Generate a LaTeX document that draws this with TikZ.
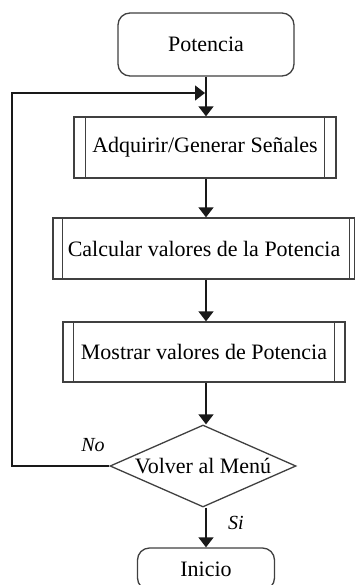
\documentclass[tikz,border=0pt]{standalone}
\usepackage{fontspec}
\setmainfont{Liberation Serif}
\usetikzlibrary{arrows.meta,shapes.geometric}
\tikzset{
  box/.style={draw=black!75, line width=1.3pt, inner sep=0pt, fill=white, font=\fontsize{22}{26}\selectfont},
  term/.style={box, rounded corners=12pt},
  proc/.style={box},
  dec/.style={box, diamond, aspect=2.27, minimum width=186pt, minimum height=82pt},
  bar/.style={draw=black!75, line width=1.3pt},
  arr/.style={draw=black!90, line width=1.4pt, -{Triangle[length=10pt,width=15pt]}},
  lbl/.style={font=\fontsize{20}{24}\selectfont\itshape}
}
\begin{document}
\begin{tikzpicture}[x=1pt,y=-1pt]
\useasboundingbox (0,0) rectangle (355,585);
\node[term, minimum width=176, minimum height=63] (pot) at (206,44.5) {Potencia};
\node[proc, minimum width=262, minimum height=61] (adq) at (205,147.5) {Adquirir/Generar Señales};
\node[proc, minimum width=302, minimum height=61] (cal) at (204,248.5) {Calcular valores de la Potencia};
\node[proc, minimum width=282, minimum height=60] (mos) at (204,352) {Mostrar valores de Potencia};
\node[dec] (vol) at (203,466) {Volver al Menú};
\node[term, minimum width=137, minimum height=42] (ini) at (206,569) {Inicio};

\draw[bar] ([xshift=12]adq.north west) -- ([xshift=12]adq.south west);
\draw[bar] ([xshift=-12]adq.north east) -- ([xshift=-12]adq.south east);
\draw[bar] ([xshift=10]cal.north west) -- ([xshift=10]cal.south west);
\draw[bar] ([xshift=-6]cal.north east) -- ([xshift=-6]cal.south east);
\draw[bar] ([xshift=11]mos.north west) -- ([xshift=11]mos.south west);
\draw[bar] ([xshift=-11]mos.north east) -- ([xshift=-11]mos.south east);

\coordinate (ax) at (206,0);
\coordinate (j) at (205,93);
\coordinate (lc) at (12,93);

\draw[arr] (pot.south -| ax) -- (adq.north -| ax);
\draw[arr] (adq.south -| ax) -- (cal.north -| ax);
\draw[arr] (cal.south -| ax) -- (mos.north -| ax);
\draw[arr] (mos.south -| ax) -- (vol.north -| ax);
\draw[arr] (vol.south -| ax) -- (ini.north -| ax);
\draw[arr] (vol.west) -| (lc) -- (j);

\node[lbl] (no) at (93,445) {No};
\node[lbl] (si) at (236,523) {Si};
\end{tikzpicture}
\end{document}
